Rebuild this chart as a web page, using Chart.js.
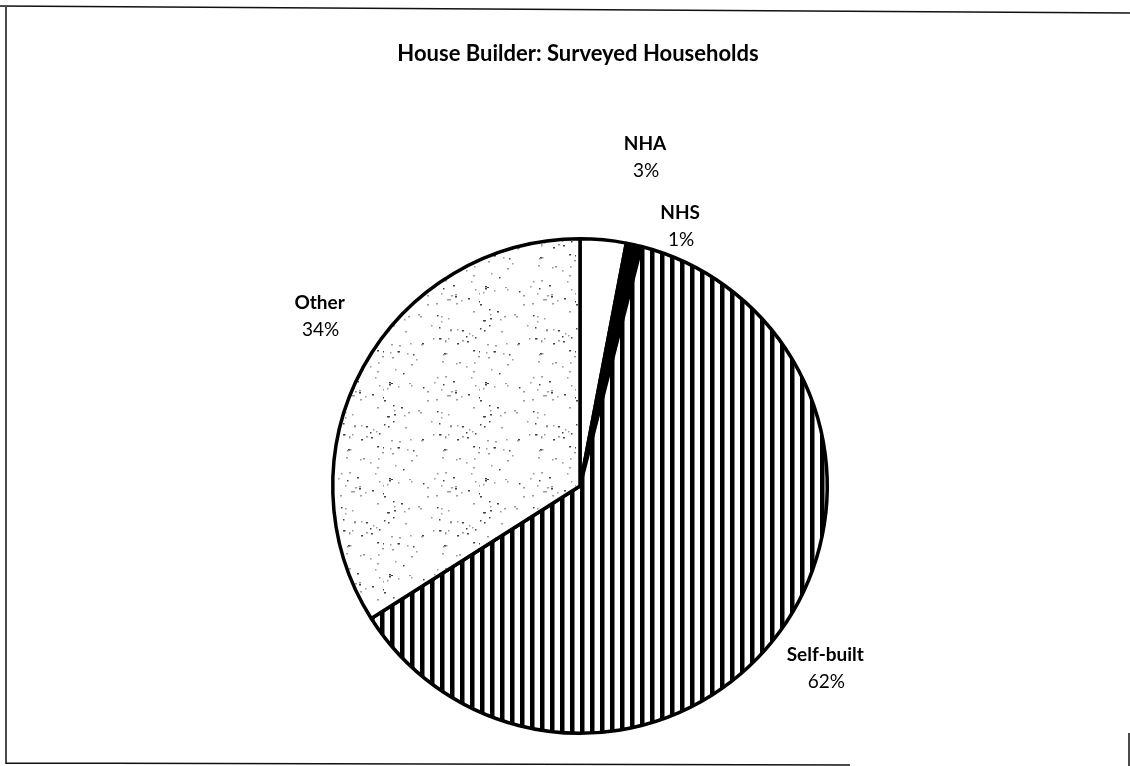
<!DOCTYPE html>
<html>
<head>
<meta charset="utf-8">
<script src="https://cdn.jsdelivr.net/npm/chart.js@4.4.1/dist/chart.umd.min.js"></script>
<style>
  html, body { margin: 0; padding: 0; background: #fff; }
  #wrap { width: 1130px; height: 766px; }
</style>
</head>
<body>
<div id="wrap"><canvas id="pieChart" width="1130" height="766"></canvas></div>
<script>
const categories = ['NHA', 'NHS', 'Self-built', 'Other'];
const shares = [3, 1, 62, 34];
const chartTitle = 'House Builder: Surveyed Households';

// hatch fills like the printed original
function stripePattern() {
    const c = document.createElement('canvas');
    c.width = 10; c.height = 10;
    const g = c.getContext('2d');
    g.fillStyle = '#fff';
    g.fillRect(0, 0, 10, 10);
    g.fillStyle = '#000';
    g.fillRect(0, 0, 4.5, 10);
    return g.createPattern(c, 'repeat');
}

// sparse stipple texture, scattered with a small fixed-seed generator
function dotPattern() {
    const size = 96;
    const c = document.createElement('canvas');
    c.width = size; c.height = size;
    const g = c.getContext('2d');
    g.fillStyle = '#fff';
    g.fillRect(0, 0, size, size);
    let seed = 7;
    const next = () => (seed = (seed * 1103515245 + 12345) % 2147483648) / 2147483648;
    for (let i = 0; i < 95; i++) {
        const x = Math.floor(next() * size);
        const y = Math.floor(next() * size);
        g.fillStyle = next() < 0.35 ? '#444' : '#9a9a9a';
        g.fillRect(x, y, next() < 0.5 ? 2 : 1.5, 1.5);
    }
    return g.createPattern(c, 'repeat');
}

const labelPlugin = {
    id: 'sliceLabels',
    beforeDraw(chart) {
        const ctx = chart.ctx;
        ctx.save();
        ctx.fillStyle = '#fff';
        ctx.fillRect(0, 0, chart.width, chart.height);
        // page frame
        ctx.strokeStyle = '#111';
        ctx.lineWidth = 1.5;
        ctx.beginPath();
        ctx.moveTo(0, 6); ctx.lineTo(1130, 13);
        ctx.moveTo(6, 7); ctx.lineTo(6, 764);
        ctx.moveTo(6, 763); ctx.lineTo(850, 765);
        ctx.moveTo(1129, 733); ctx.lineTo(1129, 766);
        ctx.stroke();
        // title
        ctx.fillStyle = '#000';
        ctx.font = 'bold 22px Lato';
        ctx.textAlign = 'center';
        ctx.textBaseline = 'middle';
        ctx.fillText(chartTitle, 578, 54);
        ctx.restore();
    },
    afterDraw(chart) {
        const ctx = chart.ctx;
        const arcs = chart.getDatasetMeta(0).data;
        const cx = arcs[0].x, cy = arcs[0].y, r = arcs[0].outerRadius;
        // label anchors, in radii from the pie centre
        const offsets = [[0.263, -1.385], [0.405, -1.105], [0.992, 0.684], [-1.053, -0.741]];
        ctx.save();
        ctx.fillStyle = '#000';
        ctx.textAlign = 'center';
        ctx.textBaseline = 'middle';
        categories.forEach((name, i) => {
            const x = cx + offsets[i][0] * r;
            const y = cy + offsets[i][1] * r;
            ctx.font = 'bold 19px Lato';
            ctx.fillText(name, x, y);
            ctx.font = '19px Lato';
            ctx.fillText(shares[i] + '%', x + 1, y + 27);
        });
        ctx.restore();
    }
};

new Chart(document.getElementById('pieChart'), {
    type: 'pie',
    data: {
        labels: categories,
        datasets: [{
            data: shares,
            backgroundColor: ['#fff', '#000', stripePattern(), dotPattern()],
            borderColor: '#000',
            borderWidth: 3.5
        }]
    },
    options: {
        responsive: false,
        animation: false,
        layout: {
            padding: { left: 331, right: 301, top: 237, bottom: 31 }
        },
        plugins: {
            legend: { display: false },
            tooltip: { enabled: false },
            title: { display: false }
        }
    },
    plugins: [labelPlugin]
});
</script>
</body>
</html>
